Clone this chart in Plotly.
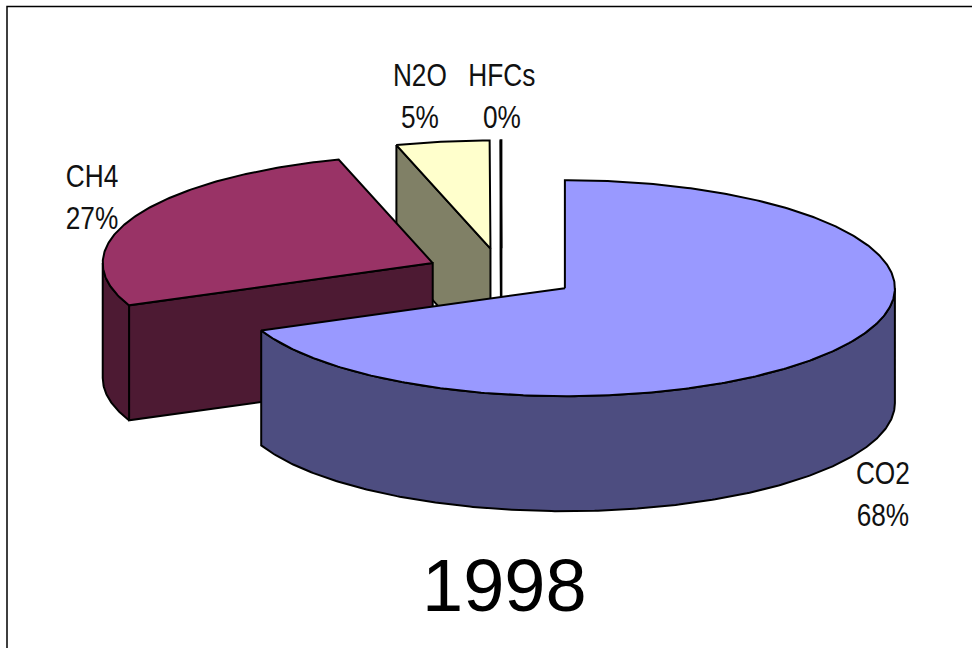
import numpy as np
import plotly.graph_objects as go

# Data
gases = ["CO2", "CH4", "N2O", "HFCs"]
shares = [68.6, 26.8, 4.56, 0.04]
labels = ["68%", "27%", "5%", "0%"]
top_colors = ["#9999FF", "#993366", "#FFFFCC", "#FFFFFF"]
wall_colors = ["#4D4D80", "#4D1A33", "#808066", "#808080"]
title_text = "1998"

# Projection of the pie (pixel space of the page)
CX, CY = 501.5, 274.0      # pie centre before explosion
RX, RY = 330.0, 108.0      # ellipse radii
DEPTH = 115.0              # extrusion height
EX, EY = 76.0, 25.7        # explosion offset
LINE = dict(color="black", width=2)


def pt(theta, apex, r=1.0, drop=0.0):
    return (apex[0] + r * RX * np.sin(theta), apex[1] - r * RY * np.cos(theta) + drop)


fig = go.Figure()
total = sum(shares)
ends = np.cumsum(shares) / total * 2 * np.pi
starts = np.concatenate([[0.0], ends[:-1]])
apexes = []
for a, b in zip(starts, ends):
    mid = (a + b) / 2
    apexes.append((CX + EX * np.sin(mid), CY - EY * np.cos(mid)))


def poly(xy, fill):
    xs, ys = zip(*xy)
    fig.add_trace(go.Scatter(x=list(xs) + [xs[0]], y=list(ys) + [ys[0]], mode="lines",
                             fill="toself", fillcolor=fill, line=LINE,
                             hoverinfo="skip", showlegend=False))


def arc(a, b, apex, drop=0.0):
    n = max(2, int(abs(b - a) / 0.01))
    return [pt(t, apex, drop=drop) for t in np.linspace(a, b, n)]


def cut_face(theta, apex, color):
    edge = pt(theta, apex)
    poly([edge, apex, (apex[0], apex[1] + DEPTH), pt(theta, apex, drop=DEPTH)], color)


def outer_wall(a, b, apex, color):
    poly(arc(a, b, apex) + arc(b, a, apex, DEPTH), color)


def top(a, b, apex, color):
    poly([apex] + arc(a, b, apex), color)


# back to front: N2O, HFCs, CH4, CO2
i = gases.index("N2O")
cut_face(starts[i], apexes[i], wall_colors[i])
top(starts[i], ends[i], apexes[i], top_colors[i])

i = gases.index("HFCs")
cut_face(starts[i], apexes[i], wall_colors[i])
top(starts[i], ends[i], apexes[i], top_colors[i])

i = gases.index("CH4")
cut_face(starts[i], apexes[i], wall_colors[i])
outer_wall(starts[i], 1.5 * np.pi, apexes[i], wall_colors[i])
top(starts[i], ends[i], apexes[i], top_colors[i])

i = gases.index("CO2")
outer_wall(0.5 * np.pi, ends[i], apexes[i], wall_colors[i])
top(starts[i], ends[i], apexes[i], top_colors[i])

label_pos = {"CO2": (883, 494), "CH4": (92, 197), "N2O": (420, 96), "HFCs": (502, 96)}
annotations = []
for g, l in zip(gases, labels):
    x, y = label_pos[g]
    annotations.append(dict(x=x, y=y, xref="x", yref="y", text=f"{g}<br>{l}", showarrow=False,
                            align="center", xanchor="center", yanchor="middle",
                            font=dict(family="Liberation Sans", size=32, color="#111111")))
annotations.append(dict(x=504, y=585, xref="x", yref="y", text=title_text, showarrow=False,
                        xanchor="center", yanchor="middle",
                        font=dict(family="Liberation Sans", size=74, color="black")))

fig.update_layout(
    width=972, height=648, autosize=False,
    margin=dict(l=0, r=0, t=0, b=0),
    paper_bgcolor="white", plot_bgcolor="white", showlegend=False,
    xaxis=dict(range=[0, 972], visible=False, fixedrange=True),
    yaxis=dict(range=[648, 0], visible=False, fixedrange=True),
    annotations=annotations,
    shapes=[dict(type="rect", xref="x", yref="y", x0=7, y0=6.5, x1=990, y1=670,
                 line=dict(color="black", width=1.5), layer="below")],
)

# Remove the page margin and narrow the gas labels (the reference uses a condensed face).
post = """
document.body.style.margin = '0';
document.documentElement.style.overflow = 'hidden';
function narrow() {
  document.querySelectorAll('g.annotation text.annotation-text').forEach(function (t) {
    if (t.textContent.indexOf('%') < 0 || t.dataset.narrowed) return;
    var b = t.getBBox();
    var cx = b.x + b.width / 2;
    t.setAttribute('transform', 'translate(' + cx + ',0) scale(0.82,1) translate(' + (-cx) + ',0)');
    t.dataset.narrowed = '1';
  });
}
narrow();
setTimeout(narrow, 50);
"""
fig.write_html("out.html", config={"displayModeBar": False}, post_script=post)
